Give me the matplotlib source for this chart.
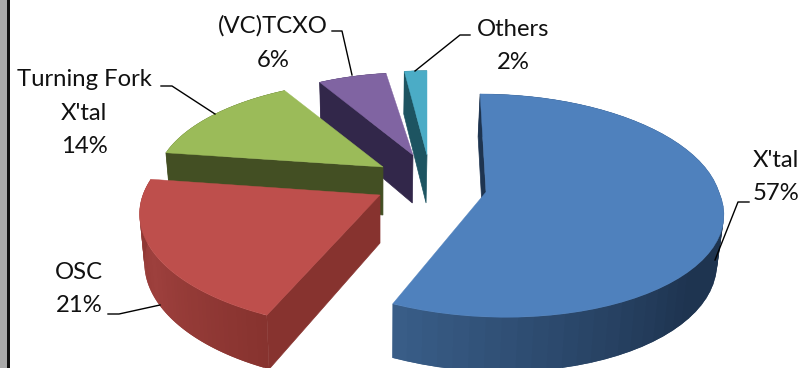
import numpy as np
import matplotlib
matplotlib.use('Agg')
import matplotlib.pyplot as plt
from matplotlib.colors import to_rgb

categories = ["X'tal", "OSC", "Turning Fork\nX'tal", "(VC)TCXO", "Others"]
shares = [57, 21, 14, 6, 2]

top_colors = ['#4F81BD', '#BE4F4C', '#9BBB59', '#8064A2', '#4BACC6']
edge_colors = ['#1E3450', '#87332F', '#434F23', '#32274A', '#1D5461']
arc_light = ['#3A5F8A', '#9E403D', '#434F23', '#32274A', '#1D5461']
arc_dark = ['#1E3450', '#87332F', '#434F23', '#32274A', '#1D5461']

# pixel layout, the picture is a tilted exploded pie
apexes = [(486, 192), (380, 195), (383, 167), (413, 155), (427, 155)]
arc_shift = [(0, 0), (2, 5), (0, 4.5), (-4, 3), (0, 0)]
scales = [1.0, 1.03, 0.93, 0.87, 0.86]
x_scales = [0.987, 0.99, 1.03, 1.0, 1.0]
shear_back = [-0.025, 0.0, 0.0, 0.0, 0.0]
shear_front = [-0.085, 0.0, 0.0, 0.0, 0.0]
radius_x = 236
radius_y = 110
persp = 0.122
depth = 48
vanish_x = 380
bottom_scale = 0.98

label_pos = [(776, 177), (79, 289), (84, 113), (273, 43), (513, 46)]
leaders = [
    [(749, 202), (738, 202), (715, 260)],
    [(108, 314), (119, 314), (160, 305)],
    [(161, 86), (172, 86), (215, 114)],
    [(332, 31), (342, 31), (352, 75)],
    [(470, 35), (460, 35), (415, 71)],
]

plt.rcParams['font.family'] = ['Lato', 'DejaVu Sans']

fig = plt.figure(figsize=(8.07, 3.68), dpi=100)
ax = fig.add_axes([0, 0, 1, 1])
ax.set_xlim(0, 807)
ax.set_ylim(368, 0)
ax.axis('off')

# frame strip on the left edge
ax.axvspan(0, 7, color='#A9A9A9', lw=0)
ax.axvspan(7, 10, color='#111111', lw=0)


def top_point(i, clock):
    a = np.radians(clock)
    u, v = np.sin(a), np.cos(a)
    f = 1 / (1 + persp * v)
    shear = np.where(v > 0, shear_back[i], shear_front[i])
    x = apexes[i][0] + arc_shift[i][0] + scales[i] * x_scales[i] * radius_x * u * f + shear * radius_x * v
    y = apexes[i][1] + arc_shift[i][1] - scales[i] * radius_y * v * f
    return x, y, f


def lower(x, y, f):
    return vanish_x + (x - vanish_x) * bottom_scale, y + depth * f


def mix(c1, c2, t):
    c1, c2 = np.array(to_rgb(c1)), np.array(to_rgb(c2))
    return tuple(c1 + (c2 - c1) * t)


starts = np.cumsum([0] + shares[:-1]) * 3.6
# far slices first, the front ones cover them
for i in [4, 3, 2, 1, 0]:
    clocks = np.linspace(starts[i], starts[i] + shares[i] * 3.6, 60)
    xs, ys, fs = top_point(i, clocks)
    ax_, ay_ = apexes[i]

    # cut face along the leading edge
    q = [(ax_, ay_), (xs[0], ys[0]), lower(xs[0], ys[0], fs[0]), lower(ax_, ay_, 1)]
    ax.fill(*zip(*q), color=edge_colors[i], lw=0.5)

    # outer wall, strips overlap so no seams show
    for j in range(len(clocks) - 1):
        mid = clocks[j]
        if i == 0:
            t = np.clip((205 - mid) / 75, 0, 1)
        else:
            t = abs(j - 30) / 30
        k = min(j + 2, len(clocks) - 1)
        wall = [(xs[j], ys[j]), (xs[k], ys[k]),
                lower(xs[k], ys[k], fs[k]), lower(xs[j], ys[j], fs[j])]
        col = mix(arc_light[i], arc_dark[i], t)
        ax.fill(*zip(*wall), color=col, lw=0)

    # top face
    ax.fill(np.r_[ax_, xs], np.r_[ay_, ys], color=top_colors[i], lw=0.3)

for i, name in enumerate(categories):
    ax.text(label_pos[i][0], label_pos[i][1], f"{name}\n{shares[i]}%",
            ha='center', va='center', fontsize=17.2, color='#111111', linespacing=1.74)
    ax.plot(*zip(*leaders[i]), color='black', lw=1)

fig.savefig('out.png', dpi=100)
